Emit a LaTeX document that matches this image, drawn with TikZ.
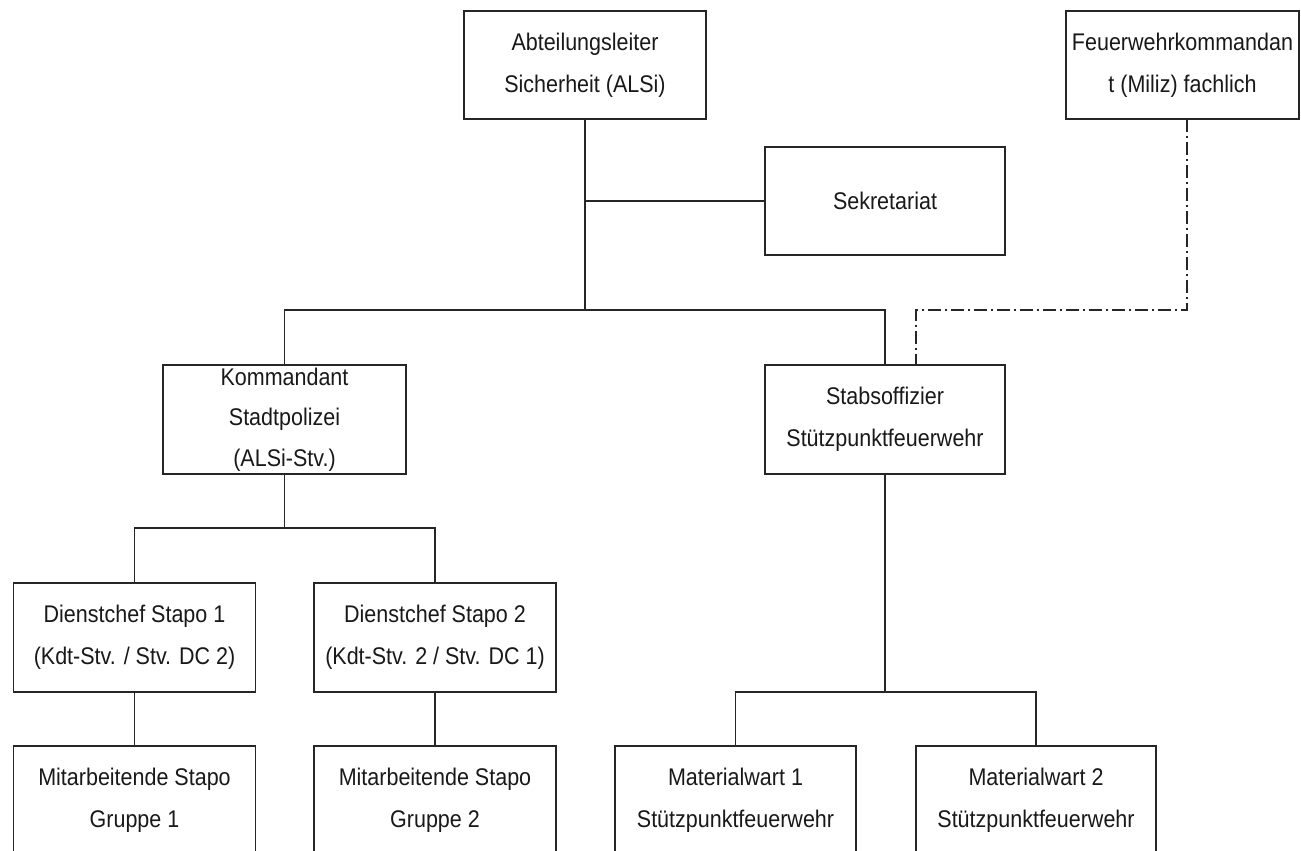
\documentclass[tikz,border=0pt]{standalone}
\usepackage{fontspec}
\usepackage{graphicx}
\setmainfont{Liberation Sans}
% slightly taller lettering
\newcommand\stretchline[1]{\scalebox{1}[1.12]{#1}}
\begin{document}
\begin{tikzpicture}[x=1pt,y=-1pt,
  line width=1.3pt,
  orgbox/.style={draw=black!85, fill=white, minimum width=242pt, minimum height=108pt,
    inner sep=0pt, align=center, font=\fontsize{21.5}{42}\selectfont, text=black!90},
  link/.style={draw=black!85},
  dashdotlink/.style={draw=black!85, dash pattern=on 13pt off 4pt on 2pt off 4pt}]
\useasboundingbox (0,0) rectangle (1301,851);
\clip (0,0) rectangle (1301,851);
\fill[white] (0,0) rectangle (1301,851);

% top level
\node[orgbox] (alsi) at (585,65) {\stretchline{Abteilungsleiter}\\\stretchline{Sicherheit (ALSi)}};
\node[orgbox, minimum width=233pt] (fw) at (1182.5,65) {\stretchline{Feuerwehrkommandan}\\\stretchline{t (Miliz) fachlich}};
\node[orgbox, minimum width=240pt] (sek) at (885,201) {\stretchline{Sekretariat}};

% second level
\node[orgbox, minimum width=243pt, minimum height=109pt,
  font=\fontsize{21.5}{40.5}\selectfont] (kdt) at (284.5,419.5)
  {\stretchline{Kommandant}\\\stretchline{Stadtpolizei}\\\stretchline{(ALSi-Stv.)}};
\node[orgbox, minimum width=240pt, minimum height=109pt] (stabs) at (885,419.5) {\stretchline{Stabsoffizier}\\\stretchline{Stützpunktfeuerwehr}};

% third level
\node[orgbox, minimum height=109pt] (dc1) at (134.5,637.5) {\stretchline{Dienstchef Stapo 1}\\\stretchline{(Kdt-Stv. / Stv. DC 2)}};
\node[orgbox, minimum height=109pt] (dc2) at (435,637.5) {\stretchline{Dienstchef Stapo 2}\\\stretchline{(Kdt-Stv. 2 / Stv. DC 1)}};

% bottom level (runs past the lower edge)
\node[orgbox] (ma1) at (134.5,800) {\stretchline{Mitarbeitende Stapo}\\\stretchline{Gruppe 1}};
\node[orgbox] (ma2) at (435,800) {\stretchline{Mitarbeitende Stapo}\\\stretchline{Gruppe 2}};
\node[orgbox, minimum width=241pt] (mw1) at (735.5,800) {\stretchline{Materialwart 1}\\\stretchline{Stützpunktfeuerwehr}};
\node[orgbox, minimum width=240pt] (mw2) at (1036,800) {\stretchline{Materialwart 2}\\\stretchline{Stützpunktfeuerwehr}};

% junction points
\coordinate (j1) at (585,310);
\coordinate (j2) at (284.5,528);
\coordinate (j3) at (885,692);
\coordinate (fwb) at (1187,119);
\coordinate (dj) at (916,310);

% connectors
\draw[link] (alsi.south) -- (j1);
\draw[link] (alsi.south |- sek.west) -- (sek.west);
\draw[link] (kdt.north) |- (j1) -| (stabs.north);
\draw[link] (kdt.south) -- (j2);
\draw[link] (dc1.north) |- (j2) -| (dc2.north);
\draw[link] (dc1.south) -- (ma1.north);
\draw[link] (dc2.south) -- (ma2.north);
\draw[link] (stabs.south) -- (j3);
\draw[link] (mw1.north) |- (j3) -| (mw2.north);
\draw[dashdotlink] (fwb) |- (dj) -- (dj |- stabs.north);
\end{tikzpicture}
\end{document}
